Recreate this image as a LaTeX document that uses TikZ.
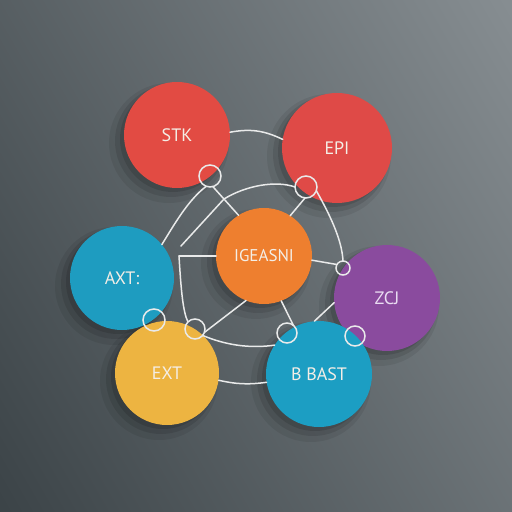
\documentclass[tikz,border=0pt]{standalone}
\usepackage{fontspec}
\setmainfont{PT Sans}
\definecolor{bgL}{HTML}{878E92}
\definecolor{bgM}{HTML}{5F676A}
\definecolor{bgD}{HTML}{3B4347}
\definecolor{cred}{HTML}{E24B43}
\definecolor{cred2}{HTML}{DF4A47}
\definecolor{cteal}{HTML}{1E9CC0}
\definecolor{corange}{HTML}{EE7F2F}
\definecolor{cpurple}{HTML}{8A4B9E}
\definecolor{cyellow}{HTML}{EDB441}
\definecolor{cteal2}{HTML}{1C9EC3}
\definecolor{txt}{HTML}{F4EEE6}
\definecolor{txtp}{HTML}{EADDF2}
\definecolor{wire}{HTML}{E9EAEA}
\begin{document}
\begin{tikzpicture}[x=0.5pt,y=-0.5pt,
 disc/.style={circle,inner sep=0pt,outer sep=0pt,minimum size=#1,text=txt,font=\fontsize{9}{11}\selectfont},
 ring/.style={circle,draw=wire,line width=0.75pt,inner sep=0pt,outer sep=0pt,minimum size=#1},
 wireline/.style={draw=wire,line width=0.75pt,line cap=round}]
\useasboundingbox (0,0) rectangle (512,512);
\begin{scope}
\clip (0,0) rectangle (512,512);
\shade[top color=bgL,middle color=bgM,bottom color=bgD,shading angle=-60] (-100,-100) rectangle (612,612);
\end{scope}
% shadows
\foreach \x/\y/\r in {177/135/53, 337/148/55, 122/278/52, 264/256/48, 387/298/53, 167/373/52, 319/374/53} {
  \fill[black,opacity=0.07] (\x-8,\y+8) circle (\r+7);
  \fill[black,opacity=0.10] (\x-6,\y+6) circle (\r+3);
  \fill[black,opacity=0.12] (\x-4,\y+4) circle (\r);
}
% discs
\node[disc=53pt,fill=cred] (stk) at (177,135) {STK};
\node[disc=55pt,fill=cred2] (epi) at (337,148) {EPI};
\node[disc=52pt,fill=cteal] (axt) at (122,278) {AXT:};
\node[disc=48pt,fill=corange,font=\fontsize{8.5}{10}\selectfont] (ges) at (264,256) {IGEASNI};
\node[disc=53pt,fill=cpurple,text=txtp] (zcj) at (387,298) {ZCJ};
\node[disc=52pt,fill=cyellow] (ext) at (167,373) {EXT};
\node[disc=53pt,fill=cteal2] (bba) at (319,374) {B BAST};
% rings
\node[ring=11pt] (l1) at (210,176) {};
\node[ring=11pt] (l2) at (306,187) {};
\node[ring=11pt] (l3) at (154,320) {};
\node[ring=10pt] (l4) at (195,329) {};
\node[ring=10pt] (l5) at (287,333) {};
\node[ring=10pt] (l6) at (355,336) {};
\node[ring=7pt] (l7) at (343,268) {};
% junctions
\coordinate (j2) at (179,256);
\coordinate (j2a) at (181,246);
\coordinate (k1) at (224,199);
% connectors
\draw[wireline] (stk.3) to[bend left=18] (epi.171);
\draw[wireline] (l1.285) -- (ges.122);
\draw[wireline] (l2.265) -- (ges.57);
\draw[wireline] (j2a) -- (k1) .. controls (245,186) and (275,180) .. (l2.west);
\draw[wireline] (l1.250) .. controls (188,200) and (174,225) .. (axt.40);
\draw[wireline] (j2) -- (ges.west);
\draw[wireline] (j2) .. controls (181,290) and (183,312) .. (l4.north west);
\draw[wireline] (ges.248) -- (l4.-20);
\draw[wireline] (ges.291) -- (l5.50);
\draw[wireline] (zcj.185) -- (bba.95);
\draw[wireline] (l2.-20) .. controls (330,215) and (342,240) .. (l7.north);
\draw[wireline] (ges.-5) -- (l7.150);
\draw[wireline] (l4.-40) .. controls (230,347) and (255,348) .. (bba.147);
\draw[wireline] (ext.-8) to[bend right=10] (bba.189);
\end{tikzpicture}
\end{document}
